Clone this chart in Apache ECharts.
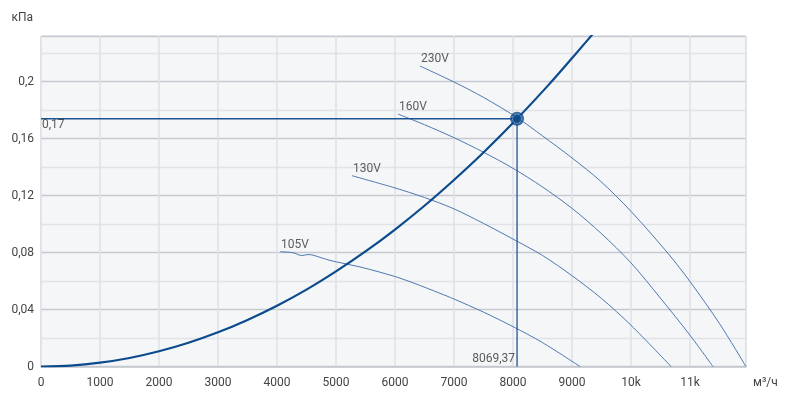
<!DOCTYPE html>
<html>
<head>
<meta charset="utf-8">
<script src="https://cdn.jsdelivr.net/npm/echarts@6/dist/echarts.min.js"></script>
<style>html,body{margin:0;padding:0;background:#fff}#c{width:796px;height:395px}</style>
</head>
<body>
<div id="c"></div>
<script>
// ---- data (airflow m³/h, pressure kPa) ----
const curveNames = ['230V', '160V', '130V', '105V'];
const fan230 = [[6424,0.211],[7000,0.1998],[7500,0.189],[8069,0.1748],[8500,0.162],[9000,0.1465],[9475,0.1305],[10000,0.109],[10627,0.0795],[11000,0.0597],[11500,0.0302],[11949,0]];
const fan160 = [[6051,0.1773],[6500,0.1698],[7000,0.1607],[7500,0.1505],[8000,0.1392],[8500,0.1261],[9000,0.1111],[9500,0.0933],[10000,0.0728],[10500,0.048],[11000,0.022],[11390,0]];
const fan130 = [[5271,0.134],[6000,0.1254],[6500,0.1187],[7000,0.1107],[7500,0.1005],[8000,0.0895],[8500,0.078],[9000,0.0638],[9500,0.0478],[10000,0.029],[10680,0]];
const fan105 = [[4051,0.0806],[4271,0.0799],[4419,0.0779],[4525,0.0786],[4610,0.0782],[4898,0.0745],[5119,0.0725],[5458,0.0694],[5966,0.0636],[6305,0.0588],[6763,0.0514],[7000,0.0474],[7500,0.0382],[8000,0.028],[8500,0.0168],[9136,0]];
const systemCurve = [[0,0],[500,0.00067],[1000,0.0027],[1500,0.006],[2000,0.0107],[2500,0.0167],[3000,0.024],[3500,0.0327],[4000,0.0427],[4500,0.054],[5000,0.0668],[5500,0.0808],[6000,0.0962],[6500,0.1129],[7000,0.131],[7500,0.1503],[8069.37,0.174],[8600,0.1976],[9000,0.2165],[9500,0.2406]];
const opFlow = 8069.37;
const opPressure = 0.174;
const xMax = 11950;
const yMax = 0.2321;

const fmtNum = v => String(parseFloat(v.toFixed(2))).replace('.', ',');
const fans = [fan230, fan160, fan130, fan105];
const fanColor = '#3b6ba6';
const dark = '#0b4a8c';

const series = [];
fans.forEach((d, i) => {
  series.push({
    type: 'line', name: curveNames[i], data: d, smooth: 0.3, showSymbol: false,
    lineStyle: { color: fanColor, width: 0.9 }, silent: true, z: 3
  });
});
series.push({
  type: 'line', name: 'system', data: systemCurve, smooth: 0.3, showSymbol: false,
  lineStyle: { color: dark, width: 2.2 }, silent: true, z: 4
});
series.push({
  type: 'line', name: 'ref', data: [[0, opPressure], [opFlow, opPressure], [opFlow, 0]],
  showSymbol: false, lineStyle: { color: '#1d5493', width: 1.3 }, silent: true, z: 3
});
// curve labels
series.push({
  type: 'scatter', symbolSize: 0, silent: true, z: 6,
  data: fans.map((d, i) => ({ value: d[0], name: curveNames[i] })),
  label: { show: true, formatter: p => p.name, position: 'top', distance: 0, align: 'left', offset: [1, -1],
           color: '#333', fontSize: 12, fontFamily: 'Roboto' }
});
// reference value labels
series.push({
  type: 'scatter', symbolSize: 0, silent: true, z: 6,
  data: [
    { value: [0, opPressure], label: { formatter: fmtNum(opPressure), position: 'bottom', distance: 0, align: 'left', offset: [1, 0] } },
    { value: [opFlow, 0], label: { formatter: String(opFlow).replace('.', ','), position: 'top', distance: 2, align: 'right', offset: [-2, 0] } }
  ],
  label: { show: true, color: '#333', fontSize: 12, fontFamily: 'Roboto' }
});
// operating point
series.push({
  type: 'scatter', silent: true, z: 7, data: [[opFlow, opPressure]],
  symbol: 'circle', symbolSize: 14, itemStyle: { color: dark }
});
series.push({
  type: 'scatter', silent: true, z: 8, data: [[opFlow, opPressure]],
  symbol: 'circle', symbolSize: 9,
  itemStyle: { color: dark, borderColor: '#9fb6d3', borderWidth: 1, borderType: [2, 1] }
});

const chart = echarts.init(document.getElementById('c'), null, { renderer: 'canvas' });
chart.setOption({
  animation: false,
  textStyle: { fontFamily: 'Roboto' },
  grid: { left: 41, right: 50, top: 36, bottom: 28.5, show: true, backgroundColor: '#f5f6f8', borderColor: '#dadde1', borderWidth: 1 },
  xAxis: {
    type: 'value', min: 0, max: xMax, interval: 1000,
    name: 'м³/ч', nameLocation: 'end', nameGap: 7,
    nameTextStyle: { color: '#444', fontSize: 12, verticalAlign: 'top', padding: [10, 0, 0, 0] },
    axisLine: { show: true, lineStyle: { color: '#c3c7cc', width: 1.5 } },
    axisTick: { show: false },
    axisLabel: { color: '#444', fontSize: 12, margin: 10, showMaxLabel: false,
      formatter: v => (v % 1000 !== 0) ? '' : (v >= 10000 ? (v / 1000) + 'k' : String(v)) },
    splitLine: { show: true, lineStyle: { color: '#dfe1e4', width: 1.5 } }
  },
  yAxis: {
    type: 'value', min: 0, max: yMax, interval: 0.02,
    name: 'кПа', nameLocation: 'end', nameGap: 12,
    nameTextStyle: { color: '#444', fontSize: 12, align: 'right', padding: [0, 8, 0, 0] },
    axisLine: { show: false },
    axisTick: { show: false },
    axisLabel: { color: '#444', fontSize: 12, margin: 7, showMaxLabel: false,
      formatter: v => (Math.round(v * 100) % 4 !== 0) ? '' : fmtNum(v) },
    splitLine: { show: true, lineStyle: { color: ['#c5c9cf', '#e1e3e6'], width: 1.3 } }
  },
  series: series
});
</script>
</body>
</html>
